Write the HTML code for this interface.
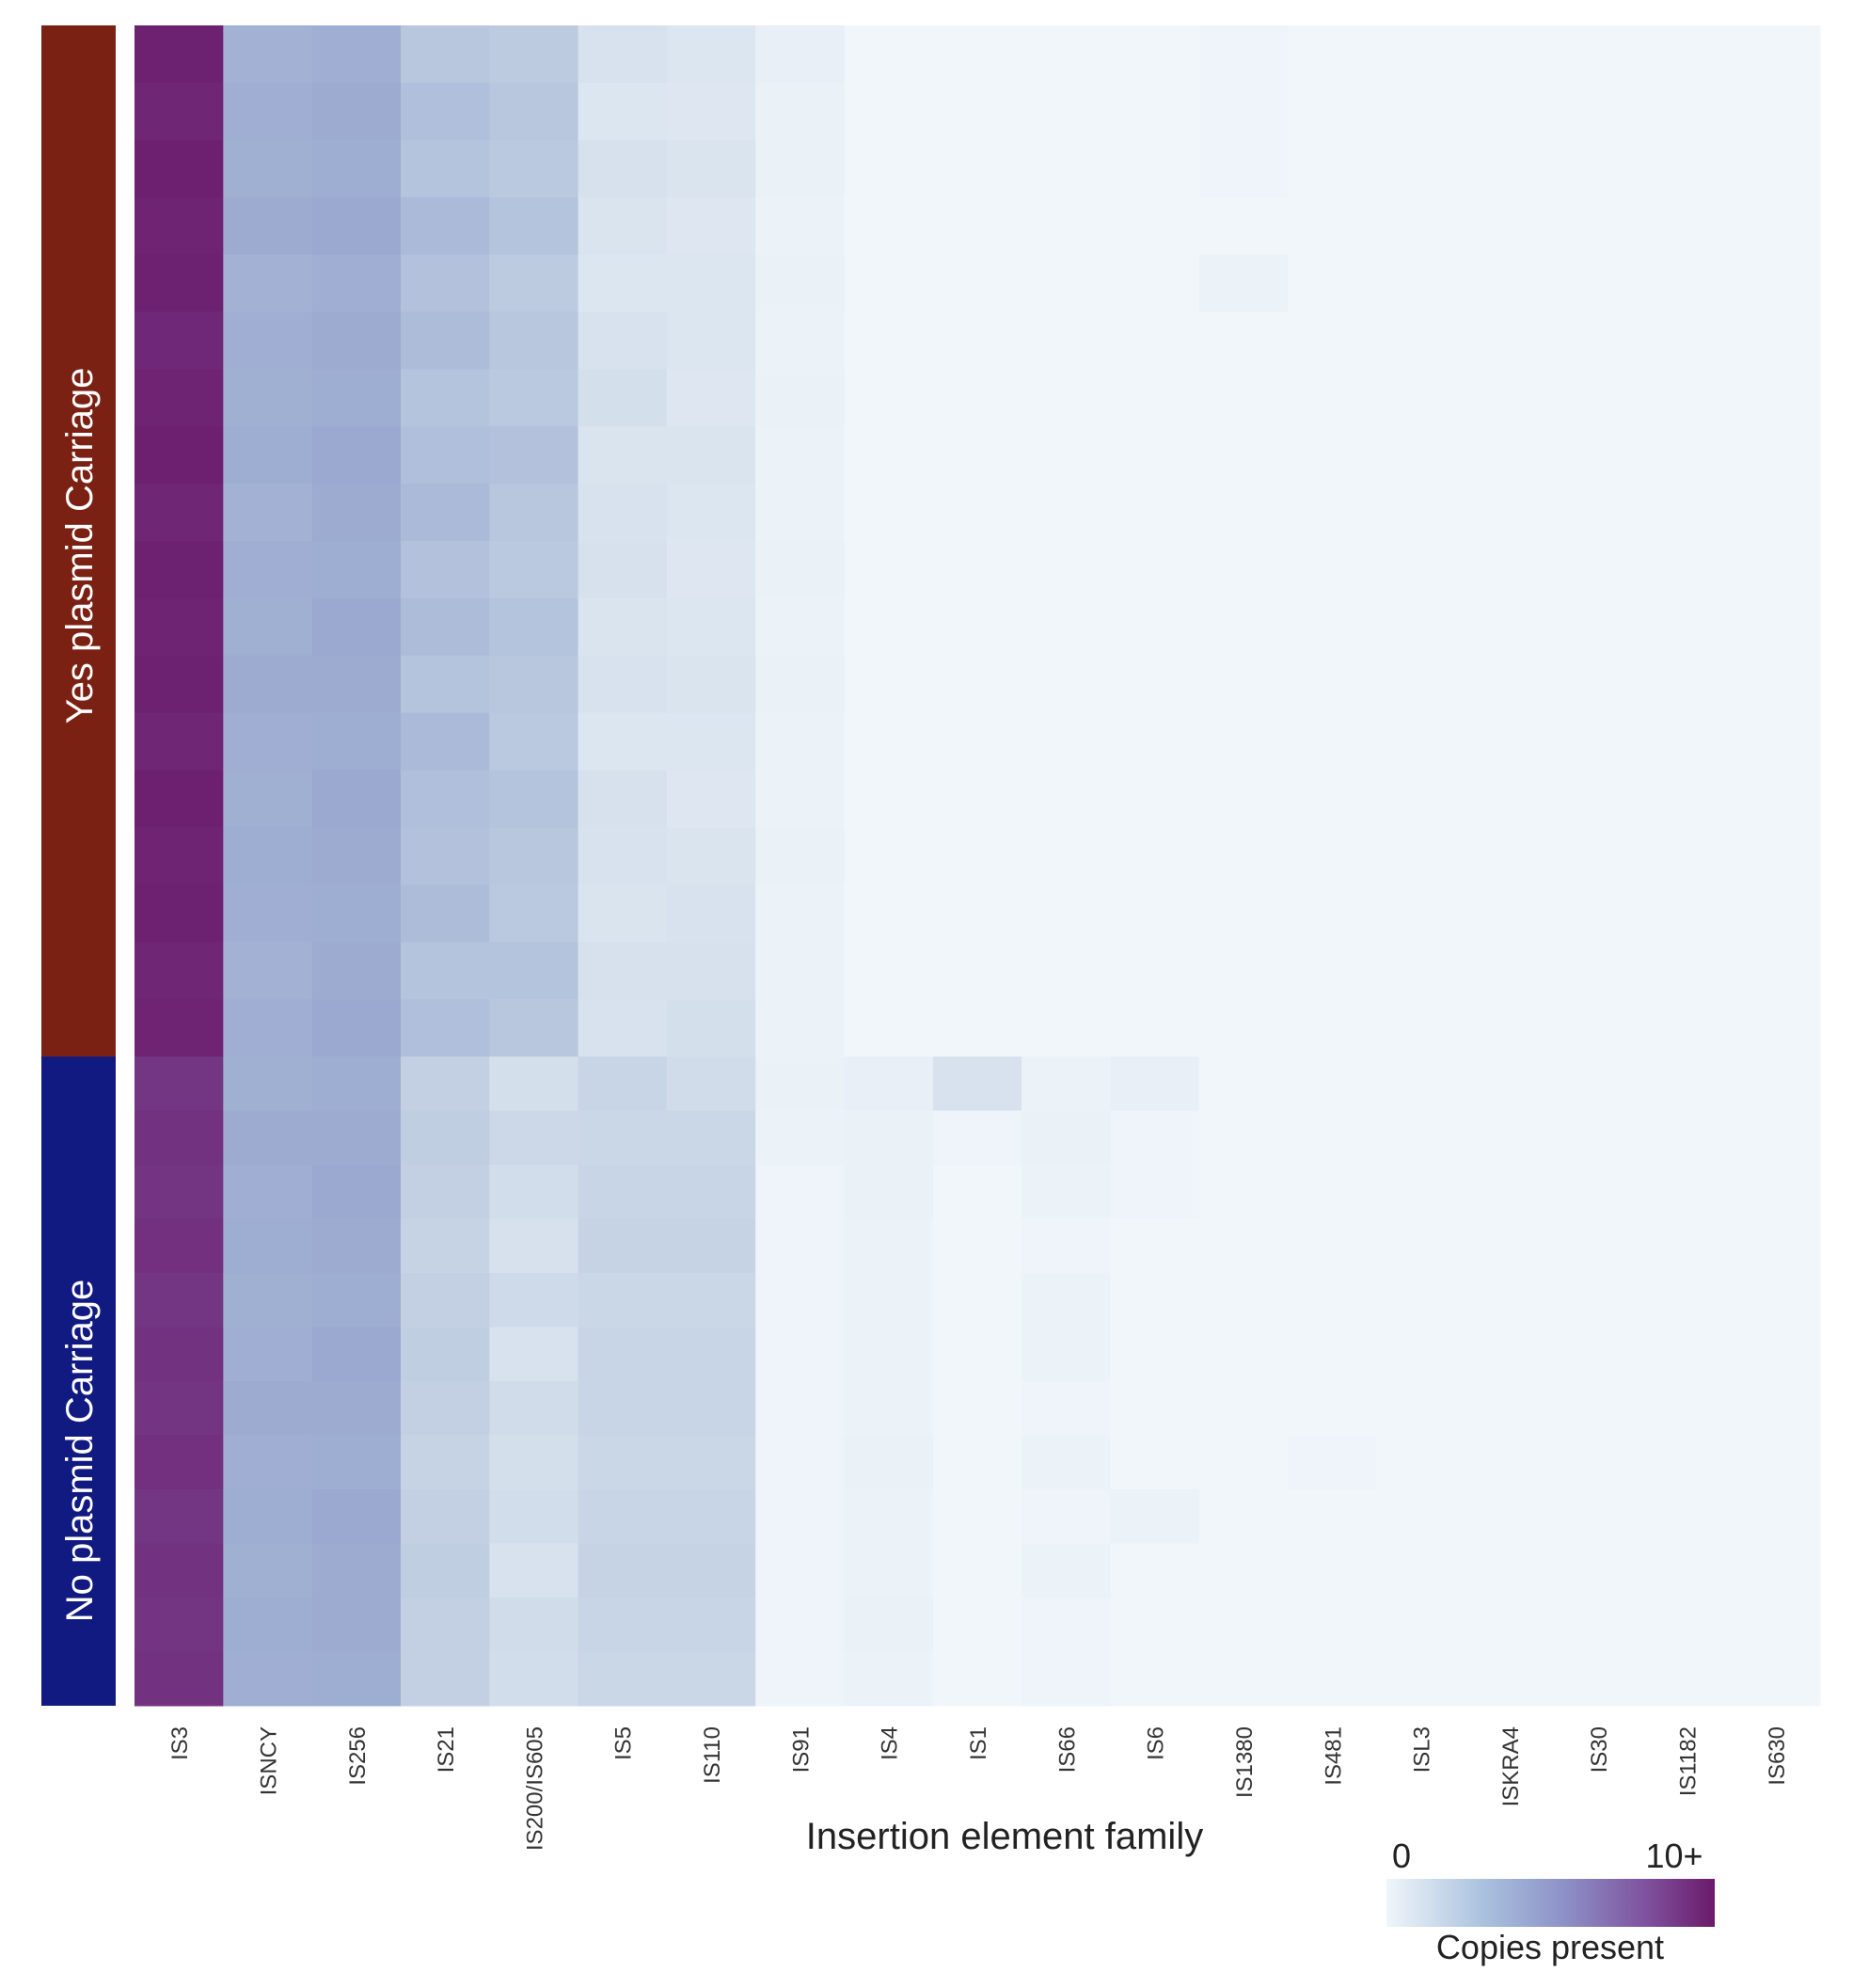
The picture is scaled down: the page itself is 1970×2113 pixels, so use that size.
<!DOCTYPE html>
<html><head><meta charset="utf-8"><style>
body{margin:0;background:#fff;font-family:"Liberation Sans",sans-serif}
svg{display:block}
</style></head><body>
<svg id="c" width="1970" height="2113" xmlns="http://www.w3.org/2000/svg">
<defs><linearGradient id="cb" x1="0" x2="1" y1="0" y2="0">
<stop offset="0" stop-color="#f0f6fa"/><stop offset="0.3" stop-color="#a9c1de"/><stop offset="0.55" stop-color="#8c8fc6"/><stop offset="0.8" stop-color="#7e4f9c"/><stop offset="1" stop-color="#6b1a6a"/></linearGradient></defs>
<rect x="44" y="27" width="79" height="1096" fill="#7b2113"/>
<rect x="44" y="1123" width="79" height="690" fill="#111a80"/>
<text transform="translate(98,580) rotate(-90)" text-anchor="middle" fill="#fff" font-size="40" font-family="Liberation Sans, sans-serif">Yes plasmid Carriage</text>
<text transform="translate(98,1542) rotate(-90)" text-anchor="middle" fill="#fff" font-size="40" font-family="Liberation Sans, sans-serif">No plasmid Carriage</text>
<g id="cells"></g>
<g id="labels"></g>
<text x="1068" y="1965" text-anchor="middle" font-size="40" fill="#222">Insertion element family</text>
<rect x="1474" y="1997" width="349" height="51" fill="url(#cb)"/>
<text x="1490" y="1985" text-anchor="middle" font-size="36" fill="#222">0</text>
<text x="1780" y="1985" text-anchor="middle" font-size="36" fill="#222">10+</text>
<text x="1648" y="2082" text-anchor="middle" font-size="36" fill="#222">Copies present</text>
</svg>
<script>
const categories=["IS3","ISNCY","IS256","IS21","IS200/IS605","IS5","IS110","IS91","IS4","IS1","IS66","IS6","IS1380","IS481","ISL3","ISKRA4","IS30","IS1182","IS630"];
const yesValues=[
[9.6,9.4,9.7,9.5,9.6,9.3,9.5,9.7,9.4,9.6,9.5,9.6,9.4,9.7,9.5,9.6,9.4,9.5],
[3.4,3.6,3.5,3.8,3.4,3.6,3.5,3.7,3.4,3.6,3.5,3.8,3.6,3.5,3.7,3.6,3.4,3.6],
[3.6,3.8,3.7,3.9,3.6,3.8,3.7,3.9,3.8,3.7,3.9,3.8,3.7,3.9,3.8,3.7,3.8,3.9],
[2.6,2.9,2.7,3.1,2.8,3.0,2.7,2.9,3.1,2.8,3.0,2.7,3.1,2.9,2.8,3.0,2.7,2.9],
[2.4,2.6,2.5,2.7,2.4,2.6,2.5,2.8,2.6,2.5,2.7,2.6,2.5,2.7,2.6,2.5,2.7,2.6],
[1.2,1.0,1.3,1.1,1.0,1.2,1.4,1.1,1.2,1.3,1.1,1.2,1.0,1.3,1.2,1.1,1.3,1.2],
[1.0,0.9,1.1,0.9,1.0,1.0,0.9,1.1,1.0,0.9,1.0,1.1,1.0,0.9,1.1,1.2,1.3,1.4],
[0.4,0.3,0.3,0.2,0.3,0.2,0.3,0.2,0.2,0.3,0.2,0.3,0.2,0.2,0.3,0.2,0.2,0.2],
[0,0,0,0,0,0,0,0,0,0,0,0,0,0,0,0,0,0],
[0,0,0,0,0,0,0,0,0,0,0,0,0,0,0,0,0,0],
[0,0,0,0,0,0,0,0,0,0,0,0,0,0,0,0,0,0],
[0,0,0,0,0,0,0,0,0,0,0,0,0,0,0,0,0,0],
[0.1,0.1,0.1,0,0.2,0,0,0,0,0,0,0,0,0,0,0,0,0],
[0,0,0,0,0,0,0,0,0,0,0,0,0,0,0,0,0,0],
[0,0,0,0,0,0,0,0,0,0,0,0,0,0,0,0,0,0],
[0,0,0,0,0,0,0,0,0,0,0,0,0,0,0,0,0,0],
[0,0,0,0,0,0,0,0,0,0,0,0,0,0,0,0,0,0],
[0,0,0,0,0,0,0,0,0,0,0,0,0,0,0,0,0,0],
[0,0,0,0,0,0,0,0,0,0,0,0,0,0,0,0,0,0]];
const noValues=[
[8.6,8.8,8.7,8.9,8.6,8.8,8.7,8.9,8.6,8.8,8.7,8.8],
[3.5,3.8,3.6,3.7,3.5,3.6,3.8,3.6,3.7,3.5,3.7,3.6],
[3.7,3.8,3.9,3.8,3.7,3.9,3.8,3.7,3.9,3.8,3.8,3.7],
[2.2,2.3,2.2,2.1,2.2,2.3,2.2,2.1,2.2,2.3,2.2,2.2],
[1.4,1.8,1.5,1.3,1.7,1.2,1.6,1.4,1.5,1.2,1.6,1.5],
[2.0,1.9,2.0,2.1,1.9,2.0,2.0,1.9,2.0,2.1,2.0,1.9],
[1.6,1.9,2.0,2.1,1.9,2.0,2.0,1.9,2.0,2.1,2.0,1.9],
[0.3,0.2,0.1,0.1,0.1,0.1,0.1,0.1,0.1,0.1,0.1,0.1],
[0.4,0.3,0.3,0.2,0.2,0.2,0.2,0.3,0.2,0.2,0.3,0.2],
[1.2,0.1,0,0,0,0,0,0,0,0,0,0],
[0.2,0.3,0.2,0.1,0.2,0.2,0.1,0.2,0.1,0.2,0.1,0.1],
[0.4,0.1,0.1,0,0,0,0,0,0.2,0,0,0],
[0,0,0,0,0,0,0,0,0,0,0,0],
[0,0,0,0,0,0,0,0.1,0,0,0,0],
[0,0,0,0,0,0,0,0,0,0,0,0],
[0,0,0,0,0,0,0,0,0,0,0,0],
[0,0,0,0,0,0,0,0,0,0,0,0],
[0,0,0,0,0,0,0,0,0,0,0,0],
[0,0,0,0,0,0,0,0,0,0,0,0]];
const X0=143,X1=1935,YT=27,YM=1123,YB=1813;
const colW=(X1-X0)/categories.length;
const xPos=i=>X0+i*colW;
const stops=[[0,[240,246,250]],[2,[200,213,230]],[3.5,[160,176,211]],[5,[143,150,200]],[7,[125,85,160]],[10,[107,26,106]]];
function color(v){v=Math.max(0,Math.min(10,v));for(let i=1;i<stops.length;i++){if(v<=stops[i][0]){const a=stops[i-1],b=stops[i],t=(v-a[0])/(b[0]-a[0]);return 'rgb('+a[1].map((c,k)=>Math.round(c+(b[1][k]-c)*t)).join(',')+')';}}return 'rgb(107,26,106)';}
const ns='http://www.w3.org/2000/svg',g=document.getElementById('cells'),lg=document.getElementById('labels');
function draw(vals,y0,y1,grp){vals.forEach((col,ci)=>{const h=(y1-y0)/col.length;col.forEach((v,ri)=>{const r=document.createElementNS(ns,'rect');
r.setAttribute('x',xPos(ci));r.setAttribute('y',y0+ri*h);r.setAttribute('width',colW+0.5);r.setAttribute('height',h+0.5);r.setAttribute('fill',color(v));


g.appendChild(r);});});}
draw(yesValues,YT,YM,'yes');draw(noValues,YM,YB,'no');
categories.forEach((c,i)=>{const t=document.createElementNS(ns,'text');const x=xPos(i)+colW/2+9;
t.setAttribute('transform','translate('+x+',1835) rotate(-90)');t.setAttribute('text-anchor','end');t.setAttribute('font-size','24');t.setAttribute('fill','#333');t.textContent=c;


lg.appendChild(t);});
</script>
</body></html>
